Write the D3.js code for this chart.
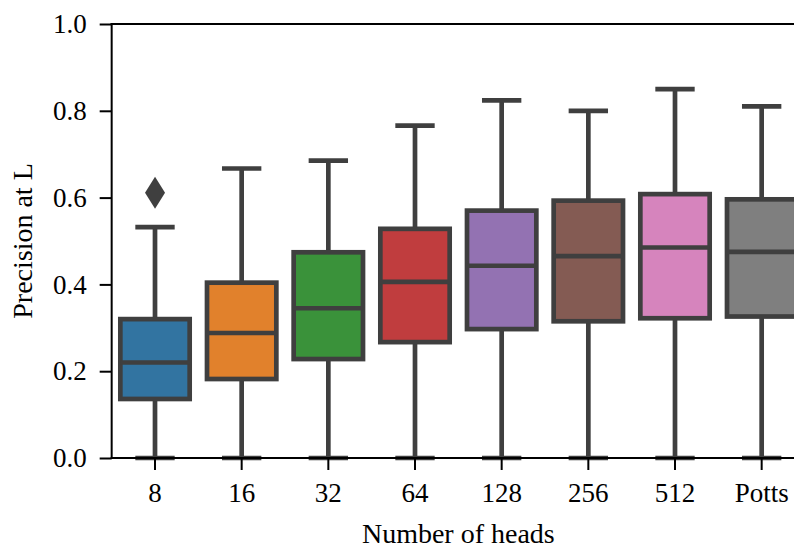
<!DOCTYPE html>
<html><head><meta charset="utf-8">
<script src="https://cdn.jsdelivr.net/npm/d3@7"></script>
<style>body{margin:0;background:#fff}svg{display:block}text{font-family:"Liberation Serif","DejaVu Serif",serif;fill:#000}</style>
</head><body>
<svg id="c" width="794" height="548"></svg>
<script>
const categories = ["8","16","32","64","128","256","512","Potts"];
const q1 =      [0.136,0.182,0.228,0.267,0.297,0.315,0.322,0.326];
const medians = [0.220,0.288,0.345,0.406,0.443,0.465,0.485,0.475];
const q3 =      [0.320,0.404,0.474,0.528,0.570,0.593,0.608,0.596];
const whiskLo = [0,0,0,0,0,0,0,0];
const whiskHi = [0.532,0.667,0.685,0.766,0.824,0.800,0.850,0.810];
const outliers = [[0.611],[],[],[],[],[],[],[]];
const colors = ["#3274a1","#e1812c","#3a923a","#c03d3e","#9372b2","#845b53","#d684bd","#7f7f7f"];
const yTicks = [0,0.2,0.4,0.6,0.8,1.0];

const L=111.67, R=805, T=24, B=458;
const svg=d3.select("#c");
const x=d3.scaleBand().domain(categories).range([L,R]).paddingInner(0).paddingOuter(0);
const y=d3.scaleLinear().domain([0,1]).range([B,T]);
const bw=x.bandwidth()*0.8;
const lc="#3f3f3f", lw=4.7;

const g=svg.append("g");
categories.forEach((c,i)=>{
  const cx=x(c)+x.bandwidth()/2;
  g.append("line").attr("x1",cx).attr("x2",cx).attr("y1",y(q1[i])).attr("y2",y(whiskLo[i])).attr("stroke",lc).attr("stroke-width",lw);
  g.append("line").attr("x1",cx).attr("x2",cx).attr("y1",y(q3[i])).attr("y2",y(whiskHi[i])).attr("stroke",lc).attr("stroke-width",lw);
  [whiskLo[i],whiskHi[i]].forEach(v=>{
    g.append("line").attr("x1",cx-bw/4).attr("x2",cx+bw/4).attr("y1",y(v)).attr("y2",y(v)).attr("stroke",lc).attr("stroke-width",lw).attr("stroke-linecap","square");
  });
  g.append("rect").attr("x",cx-bw/2).attr("width",bw).attr("y",y(q3[i])).attr("height",y(q1[i])-y(q3[i]))
    .attr("fill",colors[i]).attr("stroke",lc).attr("stroke-width",lw);
  g.append("line").attr("x1",cx-bw/2).attr("x2",cx+bw/2).attr("y1",y(medians[i])).attr("y2",y(medians[i])).attr("stroke",lc).attr("stroke-width",lw);
  outliers[i].forEach(v=>{
    const yy=y(v);
    g.append("path").attr("d",`M${cx},${yy-16}L${cx+10},${yy}L${cx},${yy+16}L${cx-10},${yy}Z`).attr("fill",lc);
  });
});

const yAxis=svg.append("g").attr("transform",`translate(${L},0)`).call(d3.axisLeft(y).tickValues(yTicks).tickFormat(d3.format(".1f")).tickSize(12).tickPadding(13));
const xAxis=svg.append("g").attr("transform",`translate(0,${B})`).call(d3.axisBottom(x).tickSize(12).tickPadding(12.5));
[yAxis,xAxis].forEach(a=>{
  a.select(".domain").remove();
  a.selectAll(".tick line").attr("stroke","#000").attr("stroke-width",2);
  a.selectAll(".tick text").style("font-size","27px").attr("fill","#000");
});
xAxis.selectAll(".tick text").attr("dy","0.71em");
svg.append("line").attr("x1",L).attr("x2",L).attr("y1",T-1).attr("y2",B+1).attr("stroke","#000").attr("stroke-width",2);
svg.append("line").attr("x1",L-1).attr("x2",R).attr("y1",B).attr("y2",B).attr("stroke","#000").attr("stroke-width",2);
svg.append("line").attr("x1",L-1).attr("x2",R).attr("y1",T).attr("y2",T).attr("stroke","#000").attr("stroke-width",2);
svg.append("line").attr("x1",R).attr("x2",R).attr("y1",T).attr("y2",B).attr("stroke","#000").attr("stroke-width",2);

svg.append("text").attr("x",(L+R)/2).attr("y",543).attr("text-anchor","middle").style("font-size","28px").text("Number of heads");
svg.append("text").attr("transform",`translate(32,${(T+B)/2}) rotate(-90)`).attr("text-anchor","middle").style("font-size","28px").text("Precision at L");
</script>
</body></html>
